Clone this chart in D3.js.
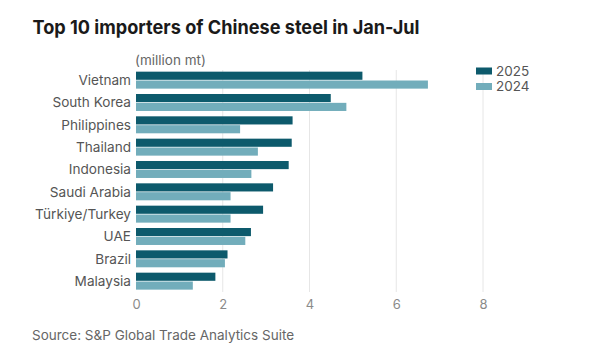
<!DOCTYPE html>
<html><head><meta charset="utf-8">
<script src="https://cdn.jsdelivr.net/npm/d3@7"></script>
<style>body{margin:0;background:#fff;} svg{display:block;font-family:Inter, "Noto Sans", sans-serif;}</style>
</head><body><svg id="c" width="603" height="356"></svg>
<script>
const categories = ["Vietnam","South Korea","Philippines","Thailand","Indonesia","Saudi Arabia","Türkiye/Turkey","UAE","Brazil","Malaysia"];
const values2025 = [5.22,4.49,3.61,3.59,3.52,3.16,2.93,2.65,2.11,1.83];
const values2024 = [6.73,4.85,2.40,2.81,2.66,2.18,2.18,2.52,2.05,1.31];
const seriesNames = ["2025","2024"];
const colors = ["#0d5a6c","#72adbb"];
const tickValues = [0,2,4,6,8];

const svg = d3.select("#c");
const x = d3.scaleLinear().domain([0,8]).range([136,483]);
const y = d3.scaleBand().domain(categories).range([66.3,295]).paddingInner(0.24).paddingOuter(0.24);
const sub = d3.scaleBand().domain(seriesNames).range([0,y.bandwidth()]).paddingInner(0.08);

// grid
svg.append("g").selectAll("line").data(tickValues.filter(d=>d>0)).join("line")
  .attr("x1",d=>x(d)).attr("x2",d=>x(d)).attr("y1",70).attr("y2",292)
  .attr("stroke","#e6e6e6").attr("stroke-width",1);

// axis
const ax = svg.append("g").attr("transform","translate(0,292)")
  .call(d3.axisBottom(x).tickValues(tickValues).tickSize(0).tickPadding(8).tickFormat(d3.format("d")));
ax.select(".domain").remove();
ax.selectAll("text").attr("fill","#8a8a8a").attr("font-size",13).attr("font-family","Inter, sans-serif");

// bars
const data = categories.map((c,i)=>({c, v:[values2025[i],values2024[i]]}));
const rows = svg.append("g").selectAll("g").data(data).join("g")
  .attr("transform",d=>`translate(0,${y(d.c)})`);
rows.selectAll("rect").data(d=>d.v.map((v,j)=>({v,s:seriesNames[j],j}))).join("rect")
  .attr("x",x(0)).attr("y",d=>sub(d.s)).attr("height",sub.bandwidth())
  .attr("width",d=>x(d.v)-x(0)).attr("fill",d=>colors[d.j]);

// category labels
svg.append("g").selectAll("text").data(categories).join("text")
  .attr("x",131).attr("y",d=>y(d)+y.bandwidth()/2).attr("dy","0.35em")
  .attr("text-anchor","end").attr("fill","#555").attr("font-size",13.6).text(d=>d);

// title
svg.append("text").attr("x",32.5).attr("y",34).attr("font-size",19).attr("font-weight",700)
  .attr("textLength",387).attr("lengthAdjust","spacingAndGlyphs")
  .attr("fill","#1a1a1a").text("Top 10 importers of Chinese steel in Jan-Jul");
svg.append("text").attr("x",135).attr("y",64.5).attr("font-size",13.5).attr("fill","#666").text("(million mt)");

// legend
const lg = svg.append("g").selectAll("g").data(seriesNames).join("g")
  .attr("transform",(d,i)=>`translate(476,${67.5+i*15.5})`);
lg.append("rect").attr("width",16).attr("height",7).attr("fill",(d,i)=>colors[i]);
lg.append("text").attr("x",20).attr("y",3.5).attr("dy","0.35em").attr("font-size",13.5).attr("fill","#555").text(d=>d);

// source
svg.append("text").attr("x",32).attr("y",340).attr("font-size",13.5).attr("fill","#666")
  .text("Source: S&P Global Trade Analytics Suite");
</script></body></html>
